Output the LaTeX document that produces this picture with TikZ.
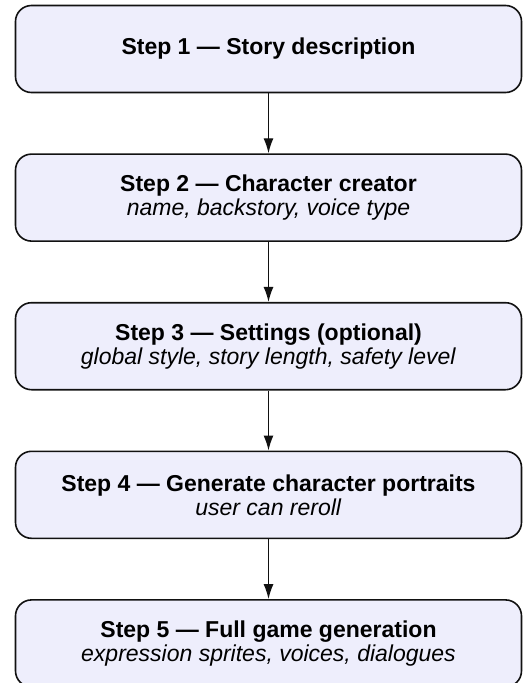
\documentclass[tikz,border=0pt]{standalone}
\usepackage{fontspec}
\setmainfont{Liberation Sans}
\usepackage{xcolor}
\usepackage{tikz}
\usetikzlibrary{arrows.meta,positioning}
\definecolor{lavfill}{HTML}{EEEEFC}
\definecolor{inkc}{HTML}{111111}

\begin{document}
\begin{tikzpicture}[x=1pt,y=1pt,
  stepbox/.style={rectangle,rounded corners=16pt,draw=inkc,line width=1.6pt,
                  fill=lavfill,minimum width=506pt,minimum height=87pt,
                  align=center,inner sep=0pt,
                  font=\fontsize{23}{24}\selectfont},
  flow/.style={-{Latex[length=15pt,width=10pt]},line width=1.3pt,draw=inkc},
  node distance=60pt
]
\useasboundingbox (0,0) rectangle (525,-683);

\node[stepbox] (s1) at (268.5,-49) {\textbf{Step 1 — Story description}};
\node[stepbox,below=of s1] (s2)
  {\textbf{Step 2 — Character creator}\\\textit{name, backstory, voice type}};
\node[stepbox,below=of s2] (s3)
  {\textbf{Step 3 — Settings (optional)}\\\textit{global style, story length, safety level}};
\node[stepbox,below=of s3] (s4)
  {\textbf{Step 4 — Generate character portraits}\\\textit{user can reroll}};
\node[stepbox,below=of s4] (s5)
  {\textbf{Step 5 — Full game generation}\\\textit{expression sprites, voices, dialogues}};

\draw[flow] (s1) -- (s2);
\draw[flow] (s2) -- (s3);
\draw[flow] (s3) -- (s4);
\draw[flow] (s4) -- (s5);
\end{tikzpicture}
\end{document}
